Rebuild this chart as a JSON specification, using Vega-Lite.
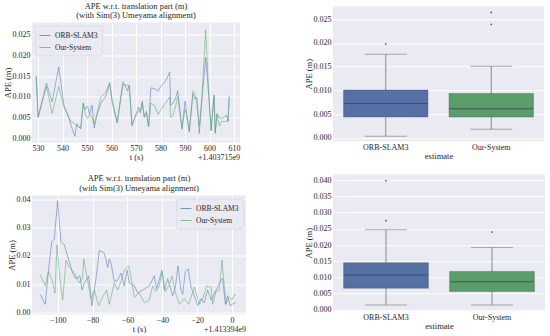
{
  "$schema": "https://vega.github.io/schema/vega-lite/v6.json",
  "background": "white",
  "padding": {"left": 3, "top": 1, "right": 3, "bottom": 0},
  "spacing": 58,
  "center": true,
  "resolve": {"scale": {"color": "independent"}, "legend": {"color": "independent"}},
  "datasets": {
    "tl": [
      {"t": 529.2, "ape": 0.0150, "estimate": "ORB-SLAM3"}, {"t": 530.0, "ape": 0.0052, "estimate": "ORB-SLAM3"}, {"t": 533.4, "ape": 0.0133, "estimate": "ORB-SLAM3"}, {"t": 535.7, "ape": 0.0088, "estimate": "ORB-SLAM3"}, {"t": 538.4, "ape": 0.0172, "estimate": "ORB-SLAM3"}, {"t": 540.6, "ape": 0.0078, "estimate": "ORB-SLAM3"}, {"t": 542.5, "ape": 0.0050, "estimate": "ORB-SLAM3"}, {"t": 543.5, "ape": 0.0030, "estimate": "ORB-SLAM3"}, {"t": 545.0, "ape": 0.0005, "estimate": "ORB-SLAM3"}, {"t": 545.8, "ape": 0.0035, "estimate": "ORB-SLAM3"}, {"t": 547.4, "ape": 0.0023, "estimate": "ORB-SLAM3"}, {"t": 548.4, "ape": 0.0085, "estimate": "ORB-SLAM3"}, {"t": 549.2, "ape": 0.0070, "estimate": "ORB-SLAM3"}, {"t": 550.2, "ape": 0.0078, "estimate": "ORB-SLAM3"}, {"t": 551.0, "ape": 0.0058, "estimate": "ORB-SLAM3"}, {"t": 552.0, "ape": 0.0080, "estimate": "ORB-SLAM3"}, {"t": 552.9, "ape": 0.0025, "estimate": "ORB-SLAM3"}, {"t": 554.0, "ape": 0.0055, "estimate": "ORB-SLAM3"}, {"t": 555.6, "ape": 0.0085, "estimate": "ORB-SLAM3"}, {"t": 557.5, "ape": 0.0100, "estimate": "ORB-SLAM3"}, {"t": 559.2, "ape": 0.0132, "estimate": "ORB-SLAM3"}, {"t": 560.3, "ape": 0.0085, "estimate": "ORB-SLAM3"}, {"t": 562.3, "ape": 0.0037, "estimate": "ORB-SLAM3"}, {"t": 564.6, "ape": 0.0137, "estimate": "ORB-SLAM3"}, {"t": 566.5, "ape": 0.0115, "estimate": "ORB-SLAM3"}, {"t": 567.2, "ape": 0.0128, "estimate": "ORB-SLAM3"}, {"t": 568.3, "ape": 0.0030, "estimate": "ORB-SLAM3"}, {"t": 570.9, "ape": 0.0075, "estimate": "ORB-SLAM3"}, {"t": 571.8, "ape": 0.0062, "estimate": "ORB-SLAM3"}, {"t": 572.5, "ape": 0.0090, "estimate": "ORB-SLAM3"}, {"t": 573.3, "ape": 0.0050, "estimate": "ORB-SLAM3"}, {"t": 574.2, "ape": 0.0065, "estimate": "ORB-SLAM3"}, {"t": 575.1, "ape": 0.0028, "estimate": "ORB-SLAM3"}, {"t": 576.0, "ape": 0.0122, "estimate": "ORB-SLAM3"}, {"t": 577.5, "ape": 0.0120, "estimate": "ORB-SLAM3"}, {"t": 579.0, "ape": 0.0115, "estimate": "ORB-SLAM3"}, {"t": 580.0, "ape": 0.0125, "estimate": "ORB-SLAM3"}, {"t": 582.0, "ape": 0.0138, "estimate": "ORB-SLAM3"}, {"t": 583.7, "ape": 0.0160, "estimate": "ORB-SLAM3"}, {"t": 584.1, "ape": 0.0080, "estimate": "ORB-SLAM3"}, {"t": 585.0, "ape": 0.0085, "estimate": "ORB-SLAM3"}, {"t": 586.0, "ape": 0.0095, "estimate": "ORB-SLAM3"}, {"t": 587.0, "ape": 0.0115, "estimate": "ORB-SLAM3"}, {"t": 588.7, "ape": 0.0022, "estimate": "ORB-SLAM3"}, {"t": 590.0, "ape": 0.0090, "estimate": "ORB-SLAM3"}, {"t": 591.7, "ape": 0.0015, "estimate": "ORB-SLAM3"}, {"t": 593.2, "ape": 0.0108, "estimate": "ORB-SLAM3"}, {"t": 594.0, "ape": 0.0095, "estimate": "ORB-SLAM3"}, {"t": 594.8, "ape": 0.0100, "estimate": "ORB-SLAM3"}, {"t": 595.8, "ape": 0.0012, "estimate": "ORB-SLAM3"}, {"t": 596.8, "ape": 0.0090, "estimate": "ORB-SLAM3"}, {"t": 598.4, "ape": 0.0195, "estimate": "ORB-SLAM3"}, {"t": 599.3, "ape": 0.0130, "estimate": "ORB-SLAM3"}, {"t": 600.6, "ape": 0.0020, "estimate": "ORB-SLAM3"}, {"t": 601.8, "ape": 0.0105, "estimate": "ORB-SLAM3"}, {"t": 602.3, "ape": 0.0012, "estimate": "ORB-SLAM3"}, {"t": 603.0, "ape": 0.0060, "estimate": "ORB-SLAM3"}, {"t": 604.0, "ape": 0.0050, "estimate": "ORB-SLAM3"}, {"t": 605.0, "ape": 0.0048, "estimate": "ORB-SLAM3"}, {"t": 606.0, "ape": 0.0052, "estimate": "ORB-SLAM3"}, {"t": 607.0, "ape": 0.0055, "estimate": "ORB-SLAM3"}, {"t": 607.5, "ape": 0.0042, "estimate": "ORB-SLAM3"}, {"t": 608.0, "ape": 0.0103, "estimate": "ORB-SLAM3"},
      {"t": 529.2, "ape": 0.0152, "estimate": "Our-System"}, {"t": 530.0, "ape": 0.0050, "estimate": "Our-System"}, {"t": 533.4, "ape": 0.0125, "estimate": "Our-System"}, {"t": 535.7, "ape": 0.0060, "estimate": "Our-System"}, {"t": 538.4, "ape": 0.0125, "estimate": "Our-System"}, {"t": 540.6, "ape": 0.0075, "estimate": "Our-System"}, {"t": 542.5, "ape": 0.0052, "estimate": "Our-System"}, {"t": 543.5, "ape": 0.0040, "estimate": "Our-System"}, {"t": 545.0, "ape": 0.0035, "estimate": "Our-System"}, {"t": 545.8, "ape": 0.0030, "estimate": "Our-System"}, {"t": 547.4, "ape": 0.0025, "estimate": "Our-System"}, {"t": 548.4, "ape": 0.0085, "estimate": "Our-System"}, {"t": 549.2, "ape": 0.0060, "estimate": "Our-System"}, {"t": 550.2, "ape": 0.0048, "estimate": "Our-System"}, {"t": 551.0, "ape": 0.0058, "estimate": "Our-System"}, {"t": 552.0, "ape": 0.0050, "estimate": "Our-System"}, {"t": 552.9, "ape": 0.0035, "estimate": "Our-System"}, {"t": 554.0, "ape": 0.0060, "estimate": "Our-System"}, {"t": 555.6, "ape": 0.0100, "estimate": "Our-System"}, {"t": 557.5, "ape": 0.0110, "estimate": "Our-System"}, {"t": 559.2, "ape": 0.0135, "estimate": "Our-System"}, {"t": 560.3, "ape": 0.0090, "estimate": "Our-System"}, {"t": 562.3, "ape": 0.0040, "estimate": "Our-System"}, {"t": 564.6, "ape": 0.0130, "estimate": "Our-System"}, {"t": 566.5, "ape": 0.0128, "estimate": "Our-System"}, {"t": 567.2, "ape": 0.0128, "estimate": "Our-System"}, {"t": 568.3, "ape": 0.0035, "estimate": "Our-System"}, {"t": 570.9, "ape": 0.0065, "estimate": "Our-System"}, {"t": 571.8, "ape": 0.0068, "estimate": "Our-System"}, {"t": 572.5, "ape": 0.0085, "estimate": "Our-System"}, {"t": 573.3, "ape": 0.0055, "estimate": "Our-System"}, {"t": 574.2, "ape": 0.0060, "estimate": "Our-System"}, {"t": 575.1, "ape": 0.0030, "estimate": "Our-System"}, {"t": 576.0, "ape": 0.0085, "estimate": "Our-System"}, {"t": 577.5, "ape": 0.0080, "estimate": "Our-System"}, {"t": 579.0, "ape": 0.0058, "estimate": "Our-System"}, {"t": 580.0, "ape": 0.0068, "estimate": "Our-System"}, {"t": 582.0, "ape": 0.0085, "estimate": "Our-System"}, {"t": 583.7, "ape": 0.0100, "estimate": "Our-System"}, {"t": 584.1, "ape": 0.0050, "estimate": "Our-System"}, {"t": 585.0, "ape": 0.0055, "estimate": "Our-System"}, {"t": 586.0, "ape": 0.0075, "estimate": "Our-System"}, {"t": 587.0, "ape": 0.0100, "estimate": "Our-System"}, {"t": 588.7, "ape": 0.0025, "estimate": "Our-System"}, {"t": 590.0, "ape": 0.0070, "estimate": "Our-System"}, {"t": 591.7, "ape": 0.0020, "estimate": "Our-System"}, {"t": 593.2, "ape": 0.0115, "estimate": "Our-System"}, {"t": 594.0, "ape": 0.0110, "estimate": "Our-System"}, {"t": 594.8, "ape": 0.0080, "estimate": "Our-System"}, {"t": 595.8, "ape": 0.0030, "estimate": "Our-System"}, {"t": 596.8, "ape": 0.0095, "estimate": "Our-System"}, {"t": 598.4, "ape": 0.0262, "estimate": "Our-System"}, {"t": 599.3, "ape": 0.0150, "estimate": "Our-System"}, {"t": 600.6, "ape": 0.0018, "estimate": "Our-System"}, {"t": 601.8, "ape": 0.0100, "estimate": "Our-System"}, {"t": 602.3, "ape": 0.0015, "estimate": "Our-System"}, {"t": 603.0, "ape": 0.0058, "estimate": "Our-System"}, {"t": 604.0, "ape": 0.0030, "estimate": "Our-System"}, {"t": 605.0, "ape": 0.0042, "estimate": "Our-System"}, {"t": 606.0, "ape": 0.0040, "estimate": "Our-System"}, {"t": 607.0, "ape": 0.0042, "estimate": "Our-System"}, {"t": 607.5, "ape": 0.0040, "estimate": "Our-System"}, {"t": 608.0, "ape": 0.0098, "estimate": "Our-System"}
    ],
    "bl": [
      {"t": -110.1, "ape": 0.0065, "estimate": "ORB-SLAM3"}, {"t": -107.1, "ape": 0.0030, "estimate": "ORB-SLAM3"}, {"t": -105.4, "ape": 0.0140, "estimate": "ORB-SLAM3"}, {"t": -103.4, "ape": 0.0250, "estimate": "ORB-SLAM3"}, {"t": -101.9, "ape": 0.0260, "estimate": "ORB-SLAM3"}, {"t": -100.0, "ape": 0.0395, "estimate": "ORB-SLAM3"}, {"t": -98.1, "ape": 0.0250, "estimate": "ORB-SLAM3"}, {"t": -96.2, "ape": 0.0240, "estimate": "ORB-SLAM3"}, {"t": -94.3, "ape": 0.0200, "estimate": "ORB-SLAM3"}, {"t": -91.4, "ape": 0.0140, "estimate": "ORB-SLAM3"}, {"t": -89.5, "ape": 0.0120, "estimate": "ORB-SLAM3"}, {"t": -87.2, "ape": 0.0130, "estimate": "ORB-SLAM3"}, {"t": -86.0, "ape": 0.0080, "estimate": "ORB-SLAM3"}, {"t": -84.7, "ape": 0.0105, "estimate": "ORB-SLAM3"}, {"t": -82.2, "ape": 0.0130, "estimate": "ORB-SLAM3"}, {"t": -80.3, "ape": 0.0025, "estimate": "ORB-SLAM3"}, {"t": -78.0, "ape": 0.0120, "estimate": "ORB-SLAM3"}, {"t": -76.1, "ape": 0.0220, "estimate": "ORB-SLAM3"}, {"t": -73.2, "ape": 0.0210, "estimate": "ORB-SLAM3"}, {"t": -71.3, "ape": 0.0160, "estimate": "ORB-SLAM3"}, {"t": -70.4, "ape": 0.0190, "estimate": "ORB-SLAM3"}, {"t": -69.4, "ape": 0.0175, "estimate": "ORB-SLAM3"}, {"t": -67.5, "ape": 0.0110, "estimate": "ORB-SLAM3"}, {"t": -65.6, "ape": 0.0115, "estimate": "ORB-SLAM3"}, {"t": -63.7, "ape": 0.0140, "estimate": "ORB-SLAM3"}, {"t": -61.8, "ape": 0.0095, "estimate": "ORB-SLAM3"}, {"t": -60.2, "ape": 0.0150, "estimate": "ORB-SLAM3"}, {"t": -58.9, "ape": 0.0105, "estimate": "ORB-SLAM3"}, {"t": -56.0, "ape": 0.0095, "estimate": "ORB-SLAM3"}, {"t": -54.1, "ape": 0.0070, "estimate": "ORB-SLAM3"}, {"t": -51.2, "ape": 0.0080, "estimate": "ORB-SLAM3"}, {"t": -47.4, "ape": 0.0095, "estimate": "ORB-SLAM3"}, {"t": -44.6, "ape": 0.0130, "estimate": "ORB-SLAM3"}, {"t": -43.2, "ape": 0.0085, "estimate": "ORB-SLAM3"}, {"t": -40.2, "ape": 0.0150, "estimate": "ORB-SLAM3"}, {"t": -38.8, "ape": 0.0080, "estimate": "ORB-SLAM3"}, {"t": -36.9, "ape": 0.0120, "estimate": "ORB-SLAM3"}, {"t": -34.0, "ape": 0.0060, "estimate": "ORB-SLAM3"}, {"t": -32.5, "ape": 0.0090, "estimate": "ORB-SLAM3"}, {"t": -31.0, "ape": 0.0165, "estimate": "ORB-SLAM3"}, {"t": -29.3, "ape": 0.0080, "estimate": "ORB-SLAM3"}, {"t": -28.3, "ape": 0.0065, "estimate": "ORB-SLAM3"}, {"t": -26.8, "ape": 0.0145, "estimate": "ORB-SLAM3"}, {"t": -25.2, "ape": 0.0155, "estimate": "ORB-SLAM3"}, {"t": -23.5, "ape": 0.0090, "estimate": "ORB-SLAM3"}, {"t": -21.6, "ape": 0.0060, "estimate": "ORB-SLAM3"}, {"t": -19.7, "ape": 0.0025, "estimate": "ORB-SLAM3"}, {"t": -17.8, "ape": 0.0050, "estimate": "ORB-SLAM3"}, {"t": -15.9, "ape": 0.0035, "estimate": "ORB-SLAM3"}, {"t": -14.0, "ape": 0.0080, "estimate": "ORB-SLAM3"}, {"t": -12.0, "ape": 0.0045, "estimate": "ORB-SLAM3"}, {"t": -9.2, "ape": 0.0080, "estimate": "ORB-SLAM3"}, {"t": -6.3, "ape": 0.0115, "estimate": "ORB-SLAM3"}, {"t": -5.4, "ape": 0.0120, "estimate": "ORB-SLAM3"}, {"t": -3.8, "ape": 0.0030, "estimate": "ORB-SLAM3"}, {"t": -2.5, "ape": 0.0060, "estimate": "ORB-SLAM3"}, {"t": -1.0, "ape": 0.0025, "estimate": "ORB-SLAM3"}, {"t": 1.3, "ape": 0.0035, "estimate": "ORB-SLAM3"}, {"t": 2.3, "ape": 0.0035, "estimate": "ORB-SLAM3"},
      {"t": -110.1, "ape": 0.0135, "estimate": "Our-System"}, {"t": -108.6, "ape": 0.0115, "estimate": "Our-System"}, {"t": -107.1, "ape": 0.0095, "estimate": "Our-System"}, {"t": -105.4, "ape": 0.0145, "estimate": "Our-System"}, {"t": -103.4, "ape": 0.0120, "estimate": "Our-System"}, {"t": -101.5, "ape": 0.0070, "estimate": "Our-System"}, {"t": -100.4, "ape": 0.0240, "estimate": "Our-System"}, {"t": -98.7, "ape": 0.0120, "estimate": "Our-System"}, {"t": -97.1, "ape": 0.0045, "estimate": "Our-System"}, {"t": -95.2, "ape": 0.0185, "estimate": "Our-System"}, {"t": -93.3, "ape": 0.0160, "estimate": "Our-System"}, {"t": -91.0, "ape": 0.0145, "estimate": "Our-System"}, {"t": -89.5, "ape": 0.0130, "estimate": "Our-System"}, {"t": -87.6, "ape": 0.0105, "estimate": "Our-System"}, {"t": -85.7, "ape": 0.0120, "estimate": "Our-System"}, {"t": -85.1, "ape": 0.0190, "estimate": "Our-System"}, {"t": -83.4, "ape": 0.0135, "estimate": "Our-System"}, {"t": -80.9, "ape": 0.0050, "estimate": "Our-System"}, {"t": -79.0, "ape": 0.0080, "estimate": "Our-System"}, {"t": -76.5, "ape": 0.0025, "estimate": "Our-System"}, {"t": -74.2, "ape": 0.0055, "estimate": "Our-System"}, {"t": -71.9, "ape": 0.0080, "estimate": "Our-System"}, {"t": -70.4, "ape": 0.0030, "estimate": "Our-System"}, {"t": -67.5, "ape": 0.0105, "estimate": "Our-System"}, {"t": -65.6, "ape": 0.0080, "estimate": "Our-System"}, {"t": -63.7, "ape": 0.0110, "estimate": "Our-System"}, {"t": -61.8, "ape": 0.0150, "estimate": "Our-System"}, {"t": -59.3, "ape": 0.0165, "estimate": "Our-System"}, {"t": -57.9, "ape": 0.0125, "estimate": "Our-System"}, {"t": -56.0, "ape": 0.0055, "estimate": "Our-System"}, {"t": -53.2, "ape": 0.0070, "estimate": "Our-System"}, {"t": -50.3, "ape": 0.0035, "estimate": "Our-System"}, {"t": -47.4, "ape": 0.0045, "estimate": "Our-System"}, {"t": -45.5, "ape": 0.0095, "estimate": "Our-System"}, {"t": -43.6, "ape": 0.0075, "estimate": "Our-System"}, {"t": -41.7, "ape": 0.0095, "estimate": "Our-System"}, {"t": -40.2, "ape": 0.0145, "estimate": "Our-System"}, {"t": -38.2, "ape": 0.0075, "estimate": "Our-System"}, {"t": -35.9, "ape": 0.0100, "estimate": "Our-System"}, {"t": -34.4, "ape": 0.0130, "estimate": "Our-System"}, {"t": -32.5, "ape": 0.0070, "estimate": "Our-System"}, {"t": -30.2, "ape": 0.0030, "estimate": "Our-System"}, {"t": -27.3, "ape": 0.0050, "estimate": "Our-System"}, {"t": -24.9, "ape": 0.0030, "estimate": "Our-System"}, {"t": -21.6, "ape": 0.0090, "estimate": "Our-System"}, {"t": -18.7, "ape": 0.0030, "estimate": "Our-System"}, {"t": -16.8, "ape": 0.0050, "estimate": "Our-System"}, {"t": -14.5, "ape": 0.0095, "estimate": "Our-System"}, {"t": -12.0, "ape": 0.0090, "estimate": "Our-System"}, {"t": -11.1, "ape": 0.0030, "estimate": "Our-System"}, {"t": -9.2, "ape": 0.0075, "estimate": "Our-System"}, {"t": -7.3, "ape": 0.0080, "estimate": "Our-System"}, {"t": -5.7, "ape": 0.0185, "estimate": "Our-System"}, {"t": -5.0, "ape": 0.0130, "estimate": "Our-System"}, {"t": -3.4, "ape": 0.0030, "estimate": "Our-System"}, {"t": -1.5, "ape": 0.0055, "estimate": "Our-System"}, {"t": 0.0, "ape": 0.0045, "estimate": "Our-System"}, {"t": 1.3, "ape": 0.0065, "estimate": "Our-System"}, {"t": 2.3, "ape": 0.0060, "estimate": "Our-System"}
    ],
    "trbox": [
      {"estimate": "ORB-SLAM3", "lower": 0.00035, "q1": 0.0044, "median": 0.00726, "q3": 0.01006, "upper": 0.0176},
      {"estimate": "Our-System", "lower": 0.0018, "q1": 0.0044, "median": 0.00615, "q3": 0.00936, "upper": 0.0151}
    ],
    "trout": [
      {"estimate": "ORB-SLAM3", "ape": 0.0198},
      {"estimate": "Our-System", "ape": 0.0239},
      {"estimate": "Our-System", "ape": 0.0264}
    ],
    "brbox": [
      {"estimate": "ORB-SLAM3", "lower": 0.00155, "q1": 0.0067, "median": 0.0108, "q3": 0.01454, "upper": 0.0247},
      {"estimate": "Our-System", "lower": 0.00155, "q1": 0.00567, "median": 0.00866, "q3": 0.01186, "upper": 0.0192}
    ],
    "brout": [
      {"estimate": "ORB-SLAM3", "ape": 0.0275},
      {"estimate": "ORB-SLAM3", "ape": 0.0398},
      {"estimate": "Our-System", "ape": 0.024}
    ],
    "tloff": [{"t": 612.4, "ape": -0.001, "label": "+1.403715e9"}],
    "bloff": [{"t": 8.0, "ape": -0.0006, "label": "+1.413394e9"}]
  },
  "hconcat": [
    {
      "columns": 1,
      "align": "none",
      "spacing": 12,
      "resolve": {"scale": {"color": "independent"}, "legend": {"color": "independent"}},
      "concat": [
        {
          "width": 208, "height": 120,
          "title": {"text": ["APE w.r.t. translation part (m)", "(with Sim(3) Umeyama alignment)"]},
          "layer": [
            {
              "data": {"name": "tl"},
              "mark": {"type": "line", "strokeWidth": 0.75, "opacity": 0.7},
              "encoding": {
                "x": {"field": "t", "type": "quantitative", "scale": {"domain": [527.5, 612.4], "nice": false, "zero": false}, "axis": {"values": [530, 540, 550, 560, 570, 580, 590, 600, 610], "format": "d", "title": "t (s)"}},
                "y": {"field": "ape", "type": "quantitative", "scale": {"domain": [-0.001, 0.028], "nice": false, "zero": false}, "axis": {"values": [0, 0.005, 0.01, 0.015, 0.02, 0.025], "format": ".3f", "title": "APE (m)"}},
                "color": {"field": "estimate", "type": "nominal", "scale": {"domain": ["ORB-SLAM3", "Our-System"], "range": ["#4C72B0", "#55A868"]}, "legend": {"orient": "top-left", "offset": 3, "title": null}}
              }
            },
            {
              "data": {"name": "tloff"},
              "mark": {"type": "text", "align": "right", "baseline": "top", "dy": 11, "fontSize": 8, "color": "#262626"},
              "encoding": {
                "x": {"field": "t", "type": "quantitative", "axis": {"values": [530, 540, 550, 560, 570, 580, 590, 600, 610], "format": "d", "title": "t (s)"}},
                "y": {"field": "ape", "type": "quantitative", "axis": {"values": [0, 0.005, 0.01, 0.015, 0.02, 0.025], "format": ".3f", "title": "APE (m)"}},
                "text": {"field": "label"}
              }
            }
          ]
        },
        {
          "width": 214, "height": 119,
          "title": {"text": ["APE w.r.t. translation part (m)", "(with Sim(3) Umeyama alignment)"]},
          "layer": [
            {
              "data": {"name": "bl"},
              "mark": {"type": "line", "strokeWidth": 0.75, "opacity": 0.7},
              "encoding": {
                "x": {"field": "t", "type": "quantitative", "scale": {"domain": [-114.7, 8.0], "nice": false, "zero": false}, "axis": {"values": [-100, -80, -60, -40, -20, 0], "format": "d", "title": "t (s)"}},
                "y": {"field": "ape", "type": "quantitative", "scale": {"domain": [-0.0006, 0.0413], "nice": false, "zero": false}, "axis": {"values": [0, 0.01, 0.02, 0.03, 0.04], "format": ".2f", "title": "APE (m)"}},
                "color": {"field": "estimate", "type": "nominal", "scale": {"domain": ["ORB-SLAM3", "Our-System"], "range": ["#4C72B0", "#55A868"]}, "legend": {"orient": "top-right", "offset": 3, "title": null}}
              }
            },
            {
              "data": {"name": "bloff"},
              "mark": {"type": "text", "align": "right", "baseline": "top", "dy": 11, "fontSize": 8, "color": "#262626"},
              "encoding": {
                "x": {"field": "t", "type": "quantitative", "axis": {"values": [-100, -80, -60, -40, -20, 0], "format": "d", "title": "t (s)"}},
                "y": {"field": "ape", "type": "quantitative", "axis": {"values": [0, 0.01, 0.02, 0.03, 0.04], "format": ".2f", "title": "APE (m)"}},
                "text": {"field": "label"}
              }
            }
          ]
        }
      ]
    },
    {
      "columns": 1,
      "align": "none",
      "spacing": 14,
      "resolve": {"scale": {"color": "independent"}, "legend": {"color": "independent"}},
      "concat": [
        {
          "width": 211, "height": 135,
          "layer": [
            {
              "data": {"name": "trbox"},
              "mark": {"type": "rule", "color": "#8a8a8a", "strokeWidth": 1},
              "encoding": {
                "x": {"field": "estimate", "type": "nominal", "scale": {"paddingInner": 0, "paddingOuter": 0}, "axis": {"labelAngle": 0, "title": "estimate", "grid": false}},
                "y": {"field": "lower", "type": "quantitative", "scale": {"domain": [-0.0007, 0.0277], "nice": false, "zero": false}, "axis": {"values": [0, 0.005, 0.01, 0.015, 0.02, 0.025], "format": ".3f", "title": "APE (m)"}},
                "y2": {"field": "upper"}
              }
            },
            {
              "data": {"name": "trbox"},
              "mark": {"type": "bar", "width": {"band": 0.8}, "stroke": "#4a4a5a", "strokeWidth": 0.6, "strokeOpacity": 0.6},
              "encoding": {
                "x": {"field": "estimate", "type": "nominal", "axis": {"labelAngle": 0, "title": "estimate", "grid": false}},
                "y": {"field": "q1", "type": "quantitative", "axis": {"values": [0, 0.005, 0.01, 0.015, 0.02, 0.025], "format": ".3f", "title": "APE (m)"}},
                "y2": {"field": "q3"},
                "color": {"field": "estimate", "type": "nominal", "scale": {"domain": ["ORB-SLAM3", "Our-System"], "range": ["#5470A4", "#5A9D6A"]}, "legend": null}
              }
            },
            {
              "data": {"name": "trbox"},
              "mark": {"type": "tick", "size": 84, "thickness": 1, "color": "#3d4452", "opacity": 0.8},
              "encoding": {
                "x": {"field": "estimate", "type": "nominal", "axis": {"labelAngle": 0, "title": "estimate", "grid": false}},
                "y": {"field": "median", "type": "quantitative", "axis": {"values": [0, 0.005, 0.01, 0.015, 0.02, 0.025], "format": ".3f", "title": "APE (m)"}}
              }
            },
            {
              "data": {"name": "trbox"},
              "mark": {"type": "tick", "size": 42, "thickness": 1, "color": "#8a8a8a"},
              "encoding": {
                "x": {"field": "estimate", "type": "nominal", "axis": {"labelAngle": 0, "title": "estimate", "grid": false}},
                "y": {"field": "lower", "type": "quantitative", "axis": {"values": [0, 0.005, 0.01, 0.015, 0.02, 0.025], "format": ".3f", "title": "APE (m)"}}
              }
            },
            {
              "data": {"name": "trbox"},
              "mark": {"type": "tick", "size": 42, "thickness": 1, "color": "#8a8a8a"},
              "encoding": {
                "x": {"field": "estimate", "type": "nominal", "axis": {"labelAngle": 0, "title": "estimate", "grid": false}},
                "y": {"field": "upper", "type": "quantitative", "axis": {"values": [0, 0.005, 0.01, 0.015, 0.02, 0.025], "format": ".3f", "title": "APE (m)"}}
              }
            },
            {
              "data": {"name": "trout"},
              "mark": {"type": "point", "filled": true, "size": 3, "color": "#555555", "opacity": 1},
              "encoding": {
                "x": {"field": "estimate", "type": "nominal", "axis": {"labelAngle": 0, "title": "estimate", "grid": false}},
                "y": {"field": "ape", "type": "quantitative", "axis": {"values": [0, 0.005, 0.01, 0.015, 0.02, 0.025], "format": ".3f", "title": "APE (m)"}}
              }
            }
          ]
        },
        {
          "width": 212, "height": 137,
          "layer": [
            {
              "data": {"name": "brbox"},
              "mark": {"type": "rule", "color": "#8a8a8a", "strokeWidth": 1},
              "encoding": {
                "x": {"field": "estimate", "type": "nominal", "scale": {"paddingInner": 0, "paddingOuter": 0}, "axis": {"labelAngle": 0, "title": ["estimate", " ", " "], "grid": false}},
                "y": {"field": "lower", "type": "quantitative", "scale": {"domain": [-0.0004, 0.0418], "nice": false, "zero": false}, "axis": {"values": [0, 0.005, 0.01, 0.015, 0.02, 0.025, 0.03, 0.035, 0.04], "format": ".3f", "title": "APE (m)"}},
                "y2": {"field": "upper"}
              }
            },
            {
              "data": {"name": "brbox"},
              "mark": {"type": "bar", "width": {"band": 0.8}, "stroke": "#4a4a5a", "strokeWidth": 0.6, "strokeOpacity": 0.6},
              "encoding": {
                "x": {"field": "estimate", "type": "nominal", "axis": {"labelAngle": 0, "title": ["estimate", " ", " "], "grid": false}},
                "y": {"field": "q1", "type": "quantitative", "axis": {"values": [0, 0.005, 0.01, 0.015, 0.02, 0.025, 0.03, 0.035, 0.04], "format": ".3f", "title": "APE (m)"}},
                "y2": {"field": "q3"},
                "color": {"field": "estimate", "type": "nominal", "scale": {"domain": ["ORB-SLAM3", "Our-System"], "range": ["#5470A4", "#5A9D6A"]}, "legend": null}
              }
            },
            {
              "data": {"name": "brbox"},
              "mark": {"type": "tick", "size": 84, "thickness": 1, "color": "#3d4452", "opacity": 0.8},
              "encoding": {
                "x": {"field": "estimate", "type": "nominal", "axis": {"labelAngle": 0, "title": ["estimate", " ", " "], "grid": false}},
                "y": {"field": "median", "type": "quantitative", "axis": {"values": [0, 0.005, 0.01, 0.015, 0.02, 0.025, 0.03, 0.035, 0.04], "format": ".3f", "title": "APE (m)"}}
              }
            },
            {
              "data": {"name": "brbox"},
              "mark": {"type": "tick", "size": 42, "thickness": 1, "color": "#8a8a8a"},
              "encoding": {
                "x": {"field": "estimate", "type": "nominal", "axis": {"labelAngle": 0, "title": ["estimate", " ", " "], "grid": false}},
                "y": {"field": "lower", "type": "quantitative", "axis": {"values": [0, 0.005, 0.01, 0.015, 0.02, 0.025, 0.03, 0.035, 0.04], "format": ".3f", "title": "APE (m)"}}
              }
            },
            {
              "data": {"name": "brbox"},
              "mark": {"type": "tick", "size": 42, "thickness": 1, "color": "#8a8a8a"},
              "encoding": {
                "x": {"field": "estimate", "type": "nominal", "axis": {"labelAngle": 0, "title": ["estimate", " ", " "], "grid": false}},
                "y": {"field": "upper", "type": "quantitative", "axis": {"values": [0, 0.005, 0.01, 0.015, 0.02, 0.025, 0.03, 0.035, 0.04], "format": ".3f", "title": "APE (m)"}}
              }
            },
            {
              "data": {"name": "brout"},
              "mark": {"type": "point", "filled": true, "size": 3, "color": "#555555", "opacity": 1},
              "encoding": {
                "x": {"field": "estimate", "type": "nominal", "axis": {"labelAngle": 0, "title": ["estimate", " ", " "], "grid": false}},
                "y": {"field": "ape", "type": "quantitative", "axis": {"values": [0, 0.005, 0.01, 0.015, 0.02, 0.025, 0.03, 0.035, 0.04], "format": ".3f", "title": "APE (m)"}}
              }
            }
          ]
        }
      ]
    }
  ],
  "config": {
    "font": "Liberation Serif",
    "view": {"fill": "#EAEAF2", "stroke": null},
    "axis": {"grid": true, "gridColor": "#ffffff", "gridWidth": 1, "domain": false, "ticks": false, "labelOverlap": false, "labelFont": "Liberation Serif", "labelFontSize": 8, "labelColor": "#262626", "labelPadding": 2, "titleFont": "Liberation Serif", "titleFontSize": 8.5, "titleFontWeight": "normal", "titleColor": "#262626", "titlePadding": 0, "titleLineHeight": 10},
    "title": {"font": "Liberation Serif", "fontSize": 8.5, "fontWeight": "normal", "color": "#262626", "offset": 3, "lineHeight": 9.5},
    "legend": {"labelFont": "Liberation Serif", "labelFontSize": 7.5, "labelColor": "#262626", "symbolType": "stroke", "symbolSize": 121, "symbolStrokeWidth": 1, "symbolOpacity": 0.7, "fillColor": "#EAEAF2", "strokeColor": "#dcdce6", "padding": 4, "labelOffset": 4, "cornerRadius": 2, "rowPadding": 2}
  }
}
